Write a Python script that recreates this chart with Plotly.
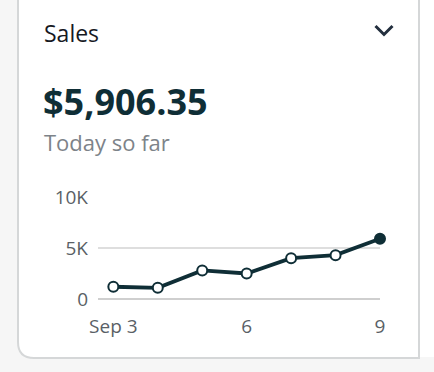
import plotly.graph_objects as go

# ---- data ----
dates = ["2024-09-03", "2024-09-04", "2024-09-05", "2024-09-06",
         "2024-09-07", "2024-09-08", "2024-09-09"]
sales = [1200, 1100, 2800, 2500, 4000, 4300, 5906.35]
x_tick_vals = ["2024-09-03", "2024-09-06", "2024-09-09"]
x_tick_text = ["Sep 3", "6", "9"]
y_tick_vals = [0, 5000, 10000]
y_tick_text = ["0", "5K", "10K"]
title_text = "Sales"
total_text = "$5,906.35"
subtitle_text = "Today so far"

W, H = 434, 372
L, R, T, B = 98, 54, 197, 73
PW, PH = W - L - R, H - T - B
FONT = "Open Sans"
DARK = "#0f2e36"


def px(x):
    return (x - L) / PW


def py(y):
    return (H - B - y) / PH


fig = go.Figure()
marker_colors = ["white"] * (len(sales) - 1) + [DARK]
fig.add_trace(go.Scatter(
    x=dates, y=sales, mode="lines+markers",
    line=dict(color=DARK, width=3.8),
    marker=dict(size=10, color=marker_colors, line=dict(color=DARK, width=2)),
    cliponaxis=False, hoverinfo="skip", showlegend=False,
))

shapes = [
    # neighbouring card area on the right
    dict(type="rect", xref="paper", yref="paper",
         x0=px(419), x1=px(440), y0=py(357), y1=py(-5),
         fillcolor="white", line=dict(width=0), layer="below"),
    # main card with rounded bottom-left corner
    dict(type="path", xref="paper", yref="paper",
         path=(f"M{px(18)},{py(-5)} L{px(18)},{py(342)} "
               f"Q{px(18)},{py(358)} {px(34)},{py(358)} "
               f"L{px(419)},{py(358)} L{px(419)},{py(-5)} Z"),
         fillcolor="white", line=dict(color="#d5d7d8", width=2), layer="below"),
    # chevron
    dict(type="path", xref="paper", yref="paper",
         path=f"M{px(375.5)},{py(26)} L{px(384)},{py(34.5)} L{px(392.5)},{py(26)}",
         line=dict(color="#232f3e", width=3), layer="above"),
]

annotations = [
    dict(text=title_text, x=px(42), y=py(33), xref="paper", yref="paper",
         xanchor="left", yanchor="middle", showarrow=False,
         font=dict(family=FONT, size=23, color="#16191f")),
    dict(text=f"<b>{total_text}</b>", x=px(41), y=py(101), xref="paper", yref="paper",
         xanchor="left", yanchor="middle", showarrow=False,
         font=dict(family=FONT, size=36, color=DARK)),
    dict(text=subtitle_text, x=px(42), y=py(142), xref="paper", yref="paper",
         xanchor="left", yanchor="middle", showarrow=False,
         font=dict(family=FONT, size=22, color="#7d8389")),
]

fig.update_layout(
    width=W, height=H, margin=dict(l=L, r=R, t=T, b=B, pad=0),
    paper_bgcolor="#f6f6f6", plot_bgcolor="rgba(0,0,0,0)",
    shapes=shapes, annotations=annotations,
    font=dict(family=FONT),
)
fig.update_xaxes(
    type="date", range=["2024-09-02 15:43", "2024-09-09"],
    tickvals=x_tick_vals, ticktext=x_tick_text,
    showgrid=False, zeroline=False, showline=False, ticks="",
    ticklabelstandoff=14,
    tickfont=dict(family=FONT, size=19, color="#5a5f66"),
)
fig.update_yaxes(
    range=[0, 10000], tickvals=y_tick_vals, ticktext=y_tick_text,
    showgrid=True, gridcolor="#dedede", gridwidth=1.5,
    zeroline=True, zerolinecolor="#cfcfcf", zerolinewidth=1.5,
    showline=False, ticks="", ticklabelstandoff=9,
    tickfont=dict(family=FONT, size=19, color="#5a5f66"),
)

fig.write_html("out.html",
               config={"displayModeBar": False, "staticPlot": True},
               post_script="document.body.style.margin='0';")
